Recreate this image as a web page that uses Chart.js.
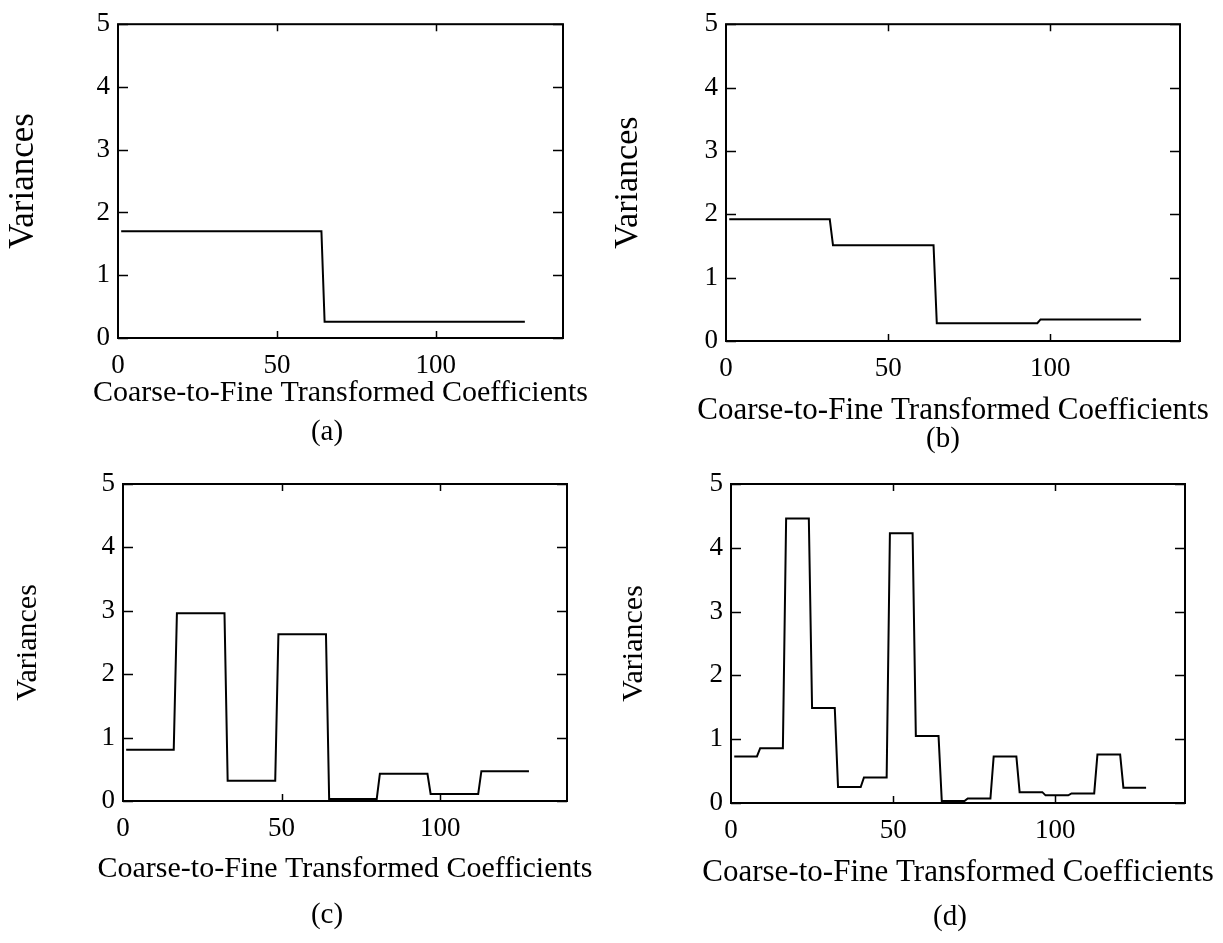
<!DOCTYPE html>
<html>
<head>
<meta charset="utf-8">
<script src="https://cdn.jsdelivr.net/npm/chart.js@4.4.1/dist/chart.umd.min.js"></script>
<style>
  body { margin: 0; background: #fff; }
  #page { position: relative; width: 1223px; height: 943px; overflow: hidden; }
  canvas { position: absolute; }
  .cap { position: absolute; font-family: 'Liberation Serif', serif; font-size: 29px; color: #000;
         transform: translate(-50%, -50%); white-space: nowrap; }
</style>
</head>
<body>
<div id="page">
  <canvas id="ca" width="611" height="450" style="left:0px;top:0px"></canvas>
  <canvas id="cb" width="612" height="450" style="left:611px;top:0px"></canvas>
  <canvas id="cc" width="611" height="493" style="left:0px;top:450px"></canvas>
  <canvas id="cd" width="612" height="493" style="left:611px;top:450px"></canvas>
  <div class="cap" style="left:327px;top:430px">(a)</div>
  <div class="cap" style="left:943px;top:437px">(b)</div>
  <div class="cap" style="left:327px;top:913px">(c)</div>
  <div class="cap" style="left:950px;top:915px">(d)</div>
</div>
<script>
// number of transformed coefficients (indices 1..128)
const nCoeffs = 128;

// variance level of each equal-width block of coefficients
const levelsA = [1.70, 0.26];
const levelsB = [1.92, 1.51, 0.28, 0.34];
const levelsC = [0.81, 2.96, 0.32, 2.63, 0.03, 0.43, 0.11, 0.47];
const levelsD = [0.73, 0.86, 4.46, 1.49, 0.25, 0.40, 4.23, 1.05,
                 0.03, 0.07, 0.73, 0.17, 0.12, 0.15, 0.76, 0.24];

const xTicks = [0, 50, 100];
const yTicks = [0, 1, 2, 3, 4, 5];
const xTitle = 'Coarse-to-Fine Transformed Coefficients';
const yTitle = 'Variances';

const FONT = "'Liberation Serif', 'Times New Roman', serif";

// expand block levels into the corner points of the step curve
function stepPoints(levels) {
  const block = nCoeffs / levels.length;
  const pts = [];
  levels.forEach((v, i) => {
    pts.push({ x: i * block + 1, y: v });
    pts.push({ x: (i + 1) * block, y: v });
  });
  return pts;
}

// inward tick marks, the box around the plot, and the x title
// (drawn here because the built-in axis title is squeezed to the axis width)
const frame = {
  id: 'frame',
  afterDatasetsDraw(chart, args, opts) {
    const { ctx, chartArea: a, scales } = chart;
    ctx.save();
    ctx.strokeStyle = '#000';
    ctx.lineWidth = 1.5;
    ctx.beginPath();
    yTicks.forEach(v => {
      const y = Math.round(scales.y.getPixelForValue(v)) + 0.5;
      ctx.moveTo(a.left, y); ctx.lineTo(a.left + 10, y);
      ctx.moveTo(a.right, y); ctx.lineTo(a.right - 10, y);
    });
    xTicks.filter(v => v > 0).forEach(v => {
      const x = Math.round(scales.x.getPixelForValue(v)) + 0.5;
      ctx.moveTo(x, a.bottom); ctx.lineTo(x, a.bottom - 7);
      ctx.moveTo(x, a.top); ctx.lineTo(x, a.top + 7);
    });
    ctx.stroke();
    ctx.lineWidth = 2;
    ctx.strokeRect(a.left, a.top, a.right - a.left, a.bottom - a.top);

    ctx.fillStyle = '#000';
    ctx.font = opts.size + 'px ' + FONT;
    ctx.textAlign = 'center';
    ctx.textBaseline = 'alphabetic';
    ctx.fillText(xTitle, (a.left + a.right) / 2, opts.baseline);
    ctx.restore();
  }
};

function makePanel(id, levels, g) {
  const cv = document.getElementById(id);
  const W = cv.width, H = cv.height;
  const sb = g.B + 45;
  new Chart(cv, {
    type: 'line',
    data: {
      datasets: [{
        data: stepPoints(levels),
        borderColor: '#000',
        borderWidth: 2,
        pointRadius: 0,
        tension: 0,
        fill: false
      }]
    },
    options: {
      responsive: false,
      animation: false,
      events: [],
      layout: { padding: { left: 0, top: g.T, right: W - g.R, bottom: H - sb } },
      plugins: {
        legend: { display: false },
        tooltip: { enabled: false },
        frame: { size: g.xSize, baseline: g.xBase }
      },
      scales: {
        x: {
          type: 'linear', min: 0, max: 140,
          grid: { display: false, drawTicks: false },
          border: { display: false },
          afterBuildTicks: s => { s.ticks = xTicks.map(v => ({ value: v })); },
          afterFit: s => { s.height = sb - g.B; },
          ticks: { color: '#000', padding: 12, maxRotation: 0, font: { family: FONT, size: 27 } }
        },
        y: {
          type: 'linear', min: 0, max: 5,
          grid: { display: false, drawTicks: false },
          border: { display: false },
          afterBuildTicks: s => { s.ticks = yTicks.map(v => ({ value: v })); },
          afterFit: s => { s.width = g.L; },
          ticks: { color: '#000', padding: 8, font: { family: FONT, size: 27 } },
          title: { display: true, text: yTitle, color: '#000',
                   padding: { top: g.yx - g.ySize / 2, bottom: 0 },
                   font: { family: FONT, size: g.ySize, lineHeight: 1 } }
        }
      }
    },
    plugins: [frame]
  });
}

// plot box (L,T,R,B), y-title centre x (yx), x-title baseline, in canvas pixels
makePanel('ca', levelsA, { L: 118, T: 23, R: 563, B: 338, yx: 24, ySize: 35, xSize: 30, xBase: 401 });
makePanel('cb', levelsB, { L: 115, T: 24, R: 569, B: 341, yx: 17, ySize: 34, xSize: 31, xBase: 419 });
makePanel('cc', levelsC, { L: 123, T: 34, R: 567, B: 351, yx: 28, ySize: 30, xSize: 30, xBase: 427 });
makePanel('cd', levelsD, { L: 120, T: 34, R: 574, B: 353, yx: 23, ySize: 30, xSize: 31, xBase: 431 });
</script>
</body>
</html>
